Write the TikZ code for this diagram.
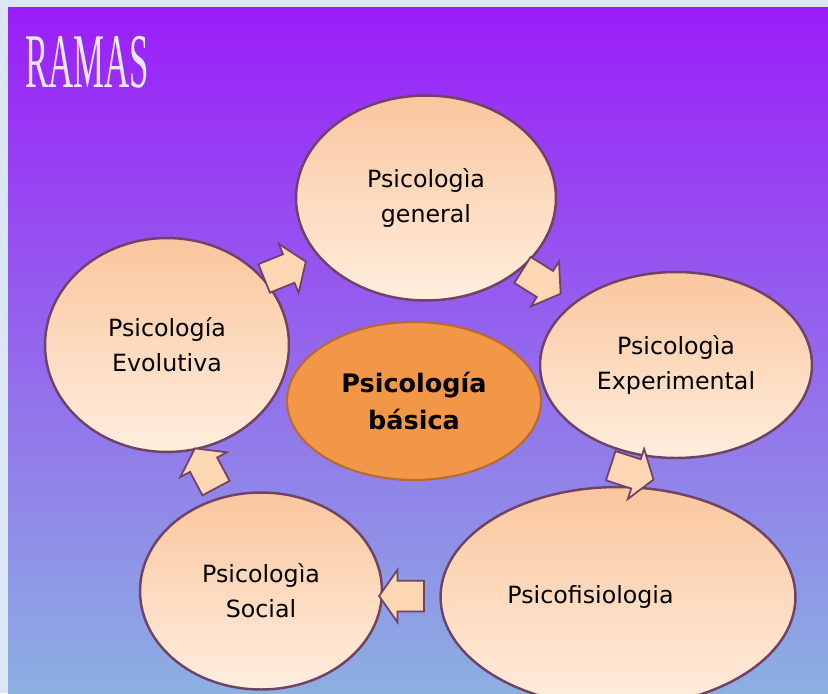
\documentclass[tikz,border=0pt]{standalone}
\usepackage{fontspec}
\setmainfont{DejaVu Sans}
\newfontfamily\titlefont{Liberation Serif}
\usetikzlibrary{shapes,shapes.geometric,shapes.arrows,positioning}

\definecolor{marco}{RGB}{220,231,245}
\definecolor{violeta}{RGB}{155,30,248}
\definecolor{lila}{RGB}{134,108,240}
\definecolor{celeste}{RGB}{140,176,226}
\definecolor{durazno}{RGB}{250,198,158}
\definecolor{crema}{RGB}{255,238,222}
\definecolor{borde}{RGB}{112,66,100}
\definecolor{naranja}{RGB}{242,150,72}
\definecolor{naranjaborde}{RGB}{185,105,50}
\definecolor{flechacol}{RGB}{253,214,180}
\definecolor{titulocol}{RGB}{236,232,252}

\tikzset{
  rama/.style={ellipse, draw=borde, line width=1.4pt, top color=durazno,
    bottom color=crema, align=center, inner sep=0pt,
    font=\fontsize{13.5}{20}\selectfont},
  nucleo/.style={ellipse, draw=naranjaborde, line width=1.2pt, fill=naranja,
    align=center, inner sep=0pt, font=\bfseries\fontsize{14.5}{21.5}\selectfont},
  flecha/.style={single arrow, draw=borde, line width=1pt, fill=flechacol,
    minimum height=0.9cm, inner xsep=0pt, inner ysep=0.29cm,
    single arrow head extend=0.22cm, single arrow tip angle=110},
}

\begin{document}
\begin{tikzpicture}[x=0.02cm,y=-0.02cm]
  \clip (0,0) rectangle (828,693);
  \fill[marco] (0,0) rectangle (828,693);
  \shade[top color=violeta, middle color=lila, bottom color=celeste]
    (8,7) rectangle (828,693);

  \node[anchor=west, text=titulocol] (titulo) at (19,62)
    {\titlefont\fontsize{44}{44}\selectfont\scalebox{0.45}[1]{RAMAS}};

  % ramas
  \node[rama, minimum width=5.2cm, minimum height=4.1cm] (general) at (426,198)
    {Psicologìa\\general};
  \node[rama, minimum width=4.88cm, minimum height=4.28cm] (evolutiva) at (167,345)
    {Psicología\\Evolutiva};
  \node[rama, minimum width=5.44cm, minimum height=3.72cm] (experimental) at (676,365)
    {Psicologìa\\Experimental};
  \node[rama, minimum width=7.1cm, minimum height=4.4cm] (fisiologia) at (618,597)
    {Psicofisiologia\hspace*{1.1cm}};
  \node[rama, minimum width=4.84cm, minimum height=3.94cm] (social) at (261,591)
    {Psicologìa\\Social};
  \node[nucleo, minimum width=5.08cm, minimum height=3.16cm] (basica) at (414,401)
    {Psicología\\básica};

  % flechas
  \node[flecha, rotate=22]  (f_0) at (280,272) {};
  \node[flecha, rotate=-32] (f_1) at (537,279) {};
  \node[flecha, rotate=-18] (f_2) at (627,471) {};
  \node[flecha, rotate=180] (f_3) at (407,596) {};
  \node[flecha, rotate=118] (f_4) at (208,473) {};
\end{tikzpicture}
\end{document}
